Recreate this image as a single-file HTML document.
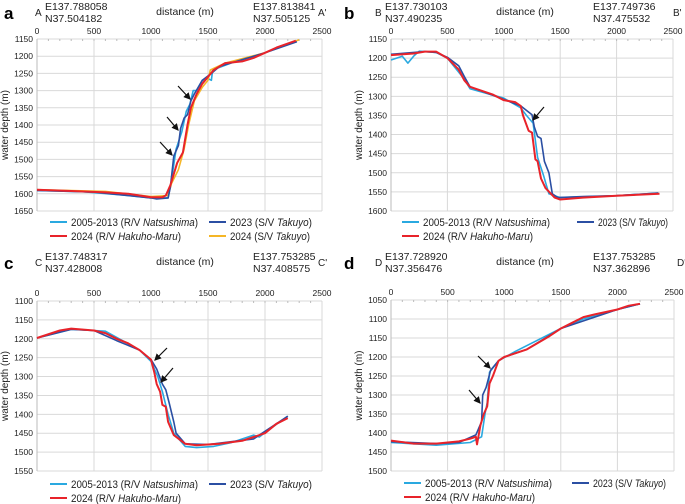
<!DOCTYPE html>
<html><head><meta charset="utf-8"><style>
body{margin:0;background:#fff;}
svg{display:block;font-family:"Liberation Sans",Arial,sans-serif;}
</style></head><body>
<svg id="fig" width="685" height="504" viewBox="0 0 685 504"></svg>
<script>
// ---- data: [distance m, depth m] ----
const aNatsu=[[0,1590],[400,1594],[800,1605],[1000,1612],[1150,1612],[1180,1560],[1220,1470],[1270,1420],[1310,1360],[1340,1340],[1370,1300],[1400,1300],[1450,1270],[1500,1265],[1530,1270],[1540,1240],[1700,1220],[2000,1190],[2250,1160]];
const aTakuyo23=[[0,1590],[500,1595],[1000,1612],[1050,1615],[1150,1612],[1170,1580],[1200,1490],[1240,1460],[1260,1410],[1290,1380],[1320,1370],[1350,1330],[1380,1310],[1450,1270],[1530,1250],[1600,1230],[1800,1210],[2000,1190],[2280,1158]];
const aHakuho=[[0,1588],[300,1592],[600,1596],[800,1600],[1000,1610],[1100,1610],[1130,1605],[1170,1575],[1230,1510],[1280,1480],[1320,1400],[1350,1350],[1400,1310],[1450,1280],[1550,1240],[1650,1220],[1800,1215],[1900,1205],[2000,1190],[2100,1175],[2270,1155]];
const aTakuyo24=[[0,1588],[600,1593],[1000,1608],[1150,1605],[1180,1570],[1240,1530],[1290,1470],[1330,1400],[1380,1330],[1450,1290],[1500,1270],[1520,1240],[1650,1220],[2000,1190],[2300,1152]];
const bNatsu=[[0,1205],[100,1195],[150,1213],[200,1195],[250,1182],[400,1185],[500,1200],[650,1255],[700,1280],[1000,1305],[1150,1330],[1200,1350],[1260,1370],[1300,1460],[1350,1505],[1400,1555],[1500,1565],[2000,1560],[2370,1553]];
const bTakuyo23=[[0,1190],[300,1183],[400,1185],[500,1198],[600,1220],[650,1248],[700,1275],[1000,1308],[1150,1325],[1250,1348],[1270,1380],[1300,1405],[1330,1410],[1360,1470],[1400,1500],[1430,1555],[1480,1565],[1700,1562],[2000,1560],[2370,1553]];
const bHakuho=[[0,1192],[200,1188],[300,1183],[400,1183],[500,1200],[600,1230],[650,1258],[700,1275],[900,1295],[1000,1310],[1100,1315],[1150,1325],[1170,1350],[1220,1390],[1250,1395],[1280,1465],[1300,1470],[1330,1515],[1370,1540],[1450,1565],[1500,1570],[1700,1565],[2000,1560],[2380,1555]];
const cNatsu=[[0,1198],[300,1175],[600,1180],[900,1230],[1000,1260],[1060,1300],[1100,1340],[1150,1400],[1200,1450],[1300,1485],[1400,1488],[1550,1485],[1700,1475],[1900,1455],[1950,1460],[2000,1448],[2200,1405]];
const cTakuyo23=[[0,1198],[300,1175],[500,1178],[700,1205],[900,1230],[1000,1255],[1050,1280],[1100,1320],[1130,1335],[1160,1370],[1200,1420],[1220,1450],[1300,1478],[1500,1480],[1900,1465],[2200,1405]];
const cHakuho=[[0,1198],[200,1178],[300,1173],[500,1178],[600,1185],[700,1200],[800,1212],[900,1230],[1000,1255],[1030,1290],[1050,1320],[1080,1340],[1100,1375],[1130,1380],[1150,1420],[1200,1455],[1300,1478],[1400,1482],[1600,1478],[1800,1470],[1900,1460],[2000,1450],[2100,1425],[2200,1410]];
const dNatsu=[[0,1425],[400,1432],[700,1425],[800,1410],[830,1350],[850,1320],[870,1240],[950,1210],[1100,1185],[1500,1125],[1700,1100],[2000,1075],[2200,1060]];
const dTakuyo23=[[0,1423],[400,1428],[600,1425],[750,1405],[800,1370],[810,1300],[840,1280],[880,1235],[950,1210],[1000,1200],[1200,1180],[1500,1125],[2000,1075],[2200,1060]];
const dHakuho=[[0,1420],[200,1428],[400,1428],[600,1422],[700,1415],[750,1410],[760,1430],[790,1380],[820,1350],[850,1330],[870,1270],[900,1250],[950,1210],[1000,1200],[1200,1180],[1400,1145],[1500,1125],[1600,1110],[1700,1095],[1800,1088],[2000,1075],[2100,1065],[2200,1060]];
const xTicks=[0,500,1000,1500,2000,2500];

const C={natsu:'#2aa9e0',tak23:'#2b4fa3',hak:'#e8232a',tak24:'#f5b626'};
const NS='http://www.w3.org/2000/svg';
const svg=document.getElementById('fig');
function mk(tag,attrs,parent,txt){const e=document.createElementNS(NS,tag);for(const k in attrs)e.setAttribute(k,attrs[k]);if(txt!==undefined)e.textContent=txt;(parent||svg).appendChild(e);return e;}

const panels=[
 {id:'a',ox:0,oy:0,x0:37,x1:322,y0:39,y1:211,ymin:1150,ymax:1650,letter:'a',L:'A',R:"A'",c1:['E137.788058','N37.504182'],c2:['E137.813841','N37.505125'],
  series:[[aNatsu,'natsu'],[aTakuyo24,'tak24'],[aTakuyo23,'tak23'],[aHakuho,'hak']],
  arrows:[[178,86,190,99],[167,117,178,130],[160,142,172,155]],legend:'a4',lx:50,ly:222,l2x:209,tl:82,rx:318},
 {id:'b',ox:340,oy:0,x0:391,x1:673,y0:39,y1:211,ymin:1150,ymax:1600,letter:'b',L:'B',R:"B'",c1:['E137.730103','N37.490235'],c2:['E137.749736','N37.475532'],
  series:[[bNatsu,'natsu'],[bTakuyo23,'tak23'],[bHakuho,'hak']],
  arrows:[[544,107,533,120]],legend:'3',lx:402,ly:222,l2x:577,tl:70,rx:673},
 {id:'c',ox:0,oy:250,x0:37,x1:322,y0:301,y1:471,ymin:1100,ymax:1550,letter:'c',L:'C',R:"C'",c1:['E137.748317','N37.428008'],c2:['E137.753285','N37.408575'],
  series:[[cNatsu,'natsu'],[cTakuyo23,'tak23'],[cHakuho,'hak']],
  arrows:[[167,348,155,360],[173,368,161,382]],legend:'3',lx:50,ly:484,l2x:209,tl:82,rx:318},
 {id:'d',ox:340,oy:250,x0:391,x1:674,y0:300,y1:471,ymin:1050,ymax:1500,letter:'d',L:'D',R:"D'",c1:['E137.728920','N37.356476'],c2:['E137.753285','N37.362896'],
  series:[[dNatsu,'natsu'],[dTakuyo23,'tak23'],[dHakuho,'hak']],
  arrows:[[478,356,490,368],[469,390,480,403]],legend:'3',lx:404,ly:483,l2x:572,tl:73,rx:677}
];
mk('defs',{}).innerHTML='<marker id="ah" markerWidth="6" markerHeight="6" refX="5" refY="3" orient="auto"><path d="M0,0 L6,3 L0,6 z" fill="#111"/></marker>';

panels.forEach(p=>{
 const g=mk('g',{});
 const sx=d=>p.x0+(d-0)/(2500-0)*(p.x1-p.x0);
 const sy=v=>p.y0+(v-p.ymin)/(p.ymax-p.ymin)*(p.y1-p.y0);
 const gg=mk('g',{},g);
 for(let v=p.ymin;v<=p.ymax;v+=50){
   mk('line',{x1:p.x0,x2:p.x1,y1:sy(v),y2:sy(v),stroke:'#d9d9d9','stroke-width':1},gg);
   const t=mk('text',{x:p.x0-4,y:sy(v)+3,'font-size':8.5,'text-anchor':'end',fill:'#222'},g,String(v));
   
   
 }
 xTicks.forEach(v=>{
   mk('line',{x1:sx(v),x2:sx(v),y1:p.y0,y2:p.y1,stroke:'#d9d9d9','stroke-width':1},gg);
   const t=mk('text',{x:sx(v),y:p.y0-5,'font-size':8.5,'text-anchor':'middle',fill:'#222'},g,String(v));
   
   
 });
 for(let v=100;v<2500;v+=100){mk('line',{x1:sx(v),x2:sx(v),y1:p.y0,y2:p.y0+2,stroke:'#bbb'},gg);}
 mk('line',{x1:p.x0,x2:p.x0,y1:p.y0,y2:p.y1,stroke:'#bbb'},gg);
 p.series.forEach(([arr,key])=>{
   const pts=arr.map(q=>sx(q[0]).toFixed(1)+','+sy(q[1]).toFixed(1)).join(' ');
   const pl=mk('polyline',{points:pts,fill:'none',stroke:C[key],'stroke-width':key==='hak'?2:1.6,'stroke-linejoin':'round'},g);
   
   
 });
 p.arrows.forEach(a=>{
   const ar=mk('line',{x1:a[0],y1:a[1],x2:a[2],y2:a[3],stroke:'#111','stroke-width':1.2,'marker-end':'url(#ah)'},g);
   
   
 });
 const oy=p.oy;
 mk('text',{x:p.ox+4,y:oy+19,'font-size':17,'font-weight':'bold',fill:'#000',},g,p.letter);
 mk('text',{x:p.ox+35,y:oy+16,'font-size':10,fill:'#222',},g,p.L);
 mk('text',{x:p.ox+45,y:oy+10,'font-size':10.5,fill:'#222',},g,p.c1[0]);
 mk('text',{x:p.ox+45,y:oy+22,'font-size':10.5,fill:'#222',},g,p.c1[1]);
 mk('text',{x:p.ox+185,y:oy+15,'font-size':10.5,'text-anchor':'middle',fill:'#222',},g,'distance (m)');
 mk('text',{x:p.ox+253,y:oy+10,'font-size':10.5,fill:'#222',},g,p.c2[0]);
 mk('text',{x:p.ox+253,y:oy+22,'font-size':10.5,fill:'#222',},g,p.c2[1]);
 mk('text',{x:p.rx,y:oy+16,'font-size':10,fill:'#222',},g,p.R);
 const cy=(p.y0+p.y1)/2, ax=p.x0-29;
 mk('text',{x:ax,y:cy,'font-size':10,'text-anchor':'middle',fill:'#222',transform:`rotate(-90 ${ax} ${cy})`,},g,'water depth (m)');
 const lg=mk('g',{},g);
 const ent=(x,y,key,html,len)=>{mk('line',{x1:x,x2:x+17,y1:y,y2:y,stroke:C[key],'stroke-width':2},lg);const t=mk('text',{x:x+21,y:y+4,'font-size':11,fill:'#222',textLength:len,lengthAdjust:'spacingAndGlyphs'},lg);t.innerHTML=html;};
 ent(p.lx,p.ly,'natsu','2005-2013 (R/V <tspan font-style="italic">Natsushima</tspan>)',127);
 ent(p.l2x,p.ly,'tak23','2023 (S/V <tspan font-style="italic">Takuyo</tspan>)',p.tl);
 ent(p.lx,p.ly+14,'hak','2024 (R/V <tspan font-style="italic">Hakuho-Maru</tspan>)',110);
 if(p.legend==='a4') ent(p.l2x,p.ly+14,'tak24','2024 (S/V <tspan font-style="italic">Takuyo</tspan>)',80);
});
</script>
</body></html>
